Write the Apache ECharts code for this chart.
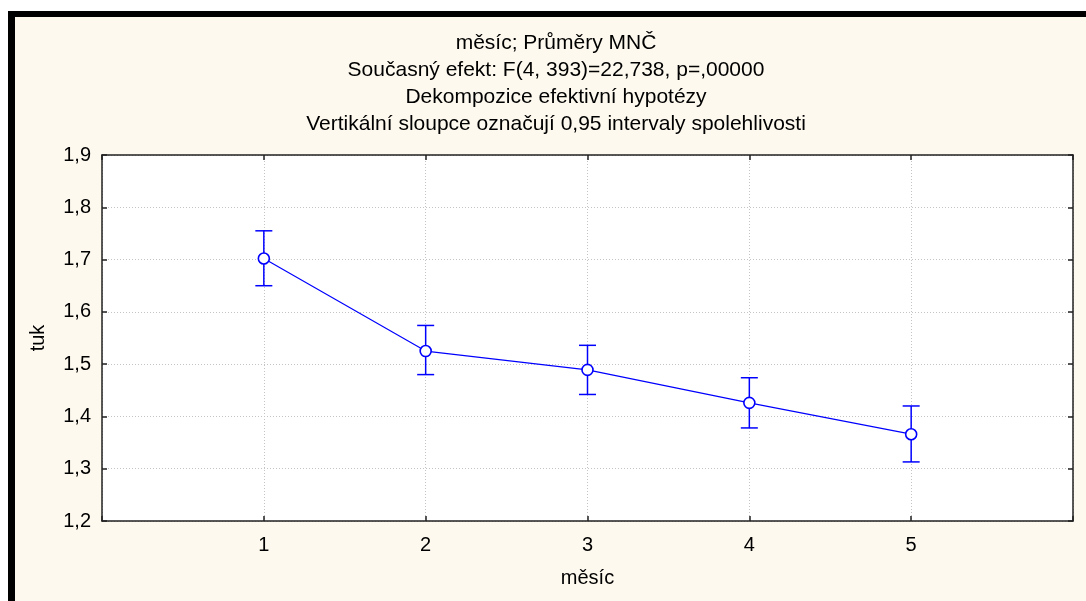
<!DOCTYPE html>
<html>
<head>
<meta charset="utf-8">
<script src="https://cdn.jsdelivr.net/npm/echarts@6/dist/echarts.min.js"></script>
<style>
html,body{margin:0;padding:0;background:#ffffff;}
#chart{width:1086px;height:601px;}
</style>
</head>
<body>
<div id="chart"></div>
<script>
const titleLines = [
  'měsíc; Průměry MNČ',
  'Současný efekt: F(4, 393)=22,738, p=,00000',
  'Dekompozice efektivní hypotézy',
  'Vertikální sloupce označují 0,95 intervaly spolehlivosti'
];
const categories = ['1', '2', '3', '4', '5'];
const means = [1.702, 1.525, 1.489, 1.426, 1.366];
const lower = [1.650, 1.480, 1.442, 1.378, 1.313];
const upper = [1.755, 1.574, 1.536, 1.474, 1.420];
const xAxisName = 'měsíc';
const yAxisName = 'tuk';

const FONT = 'Liberation Sans, Arial, sans-serif';
const BLUE = '#0000ff';

const lineData = categories.map((c, i) => [i + 1, means[i]]);
const errData = categories.map((c, i) => [i + 1, lower[i], upper[i]]);

const chart = echarts.init(document.getElementById('chart'), null, {renderer: 'canvas'});

const graphics = [
  {type: 'rect', z: -100, shape: {x: 15, y: 17, width: 1071, height: 584}, style: {fill: '#FDF9EE'}, silent: true},
  {type: 'rect', z: -99, shape: {x: 8, y: 11, width: 1078, height: 6}, style: {fill: '#000'}, silent: true},
  {type: 'rect', z: -99, shape: {x: 8, y: 11, width: 7, height: 590}, style: {fill: '#000'}, silent: true}
];
titleLines.forEach((t, i) => {
  graphics.push({
    type: 'text', z: 10, x: 556, y: 43 + i * 27,
    style: {text: t, fill: '#000', font: '21px ' + FONT, textAlign: 'center', textVerticalAlign: 'middle'}
  });
});

const baseTick = {show: true, inside: true, length: 5, lineStyle: {color: '#222', width: 1.5}};
const axisLine = {show: true, onZero: false, lineStyle: {color: '#222', width: 1.5}};

chart.setOption({
  backgroundColor: 'transparent',
  animation: false,
  graphic: graphics,
  grid: {left: 102, top: 155, right: 13, bottom: 80, show: true, backgroundColor: '#ffffff', borderWidth: 0},
  xAxis: [
    {
      type: 'value', min: 0, max: 6, interval: 1, position: 'bottom',
      name: xAxisName, nameLocation: 'middle', nameGap: 47,
      nameTextStyle: {fontSize: 20, fontFamily: FONT, color: '#000', lineHeight: 20},
      axisLine: axisLine, axisTick: baseTick,
      axisLabel: {
        fontSize: 20, fontFamily: FONT, color: '#000', margin: 14,
        formatter: v => (v >= 1 && v <= categories.length) ? categories[v - 1] : ''
      },
      splitLine: {show: true, lineStyle: {color: '#c4c4c4', type: [1, 2], width: 1}}
    },
    {
      type: 'value', min: 0, max: 6, interval: 1, position: 'top',
      axisLine: axisLine, axisTick: baseTick, axisLabel: {show: false}, splitLine: {show: false}
    }
  ],
  yAxis: [
    {
      type: 'value', min: 1.2, max: 1.9, interval: 0.1, position: 'left',
      name: yAxisName, nameLocation: 'middle', nameGap: 54, nameRotate: 90,
      nameTextStyle: {fontSize: 20, fontFamily: FONT, color: '#000'},
      axisLine: axisLine, axisTick: baseTick,
      axisLabel: {
        fontSize: 20, fontFamily: FONT, color: '#000', margin: 11,
        formatter: v => v.toFixed(1).replace('.', ',')
      },
      splitLine: {show: true, lineStyle: {color: '#c4c4c4', type: [1, 2], width: 1}}
    },
    {
      type: 'value', min: 1.2, max: 1.9, interval: 0.1, position: 'right',
      axisLine: axisLine, axisTick: baseTick, axisLabel: {show: false}, splitLine: {show: false}
    }
  ],
  series: [
    {
      type: 'custom',
      xAxisIndex: 0, yAxisIndex: 0,
      data: errData,
      z: 3,
      renderItem: function (params, api) {
        const x = api.value(0);
        const top = api.coord([x, api.value(2)]);
        const bot = api.coord([x, api.value(1)]);
        const half = 8.5;
        const st = {stroke: BLUE, lineWidth: 1.5, fill: null};
        return {
          type: 'group',
          children: [
            {type: 'line', shape: {x1: top[0], y1: top[1], x2: bot[0], y2: bot[1]}, style: st},
            {type: 'line', shape: {x1: top[0] - half, y1: top[1], x2: top[0] + half, y2: top[1]}, style: st},
            {type: 'line', shape: {x1: bot[0] - half, y1: bot[1], x2: bot[0] + half, y2: bot[1]}, style: st}
          ]
        };
      }
    },
    {
      type: 'line',
      xAxisIndex: 0, yAxisIndex: 0,
      data: lineData,
      z: 5,
      symbol: 'circle', symbolSize: 11,
      lineStyle: {color: BLUE, width: 1.2},
      itemStyle: {color: '#ffffff', borderColor: BLUE, borderWidth: 1.6}
    }
  ]
});
</script>
</body>
</html>
